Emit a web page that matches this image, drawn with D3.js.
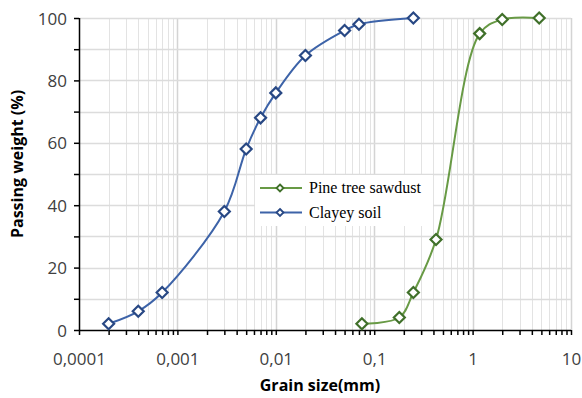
<!DOCTYPE html>
<html>
<head>
<meta charset="utf-8">
<script src="https://cdn.jsdelivr.net/npm/d3@7"></script>
<style>
  body { margin: 0; background: #fff; }
  svg { display: block; }
</style>
</head>
<body>
<svg id="chart" width="582" height="398"></svg>
<script>
// grain size (mm) and passing weight (%)
var claySize = [0.0002, 0.0004, 0.0007, 0.003, 0.005, 0.007, 0.01, 0.02, 0.05, 0.07, 0.25];
var clayPass = [2, 6, 12, 38, 58, 68, 76, 88, 96, 98, 100];
var pineSize = [0.075, 0.18, 0.25, 0.425, 1.18, 2, 4.75];
var pinePass = [2, 4, 12, 29, 95, 99.5, 100];
var xTicks = [0.0001, 0.001, 0.01, 0.1, 1, 10];
var xTickLabels = ["0,0001", "0,001", "0,01", "0,1", "1", "10"];
var yTicks = [0, 20, 40, 60, 80, 100];

var svg = d3.select("#chart");
// plot box (don't use "top", it's window.top)
var pLeft = 79, pRight = 571, pTop = 18, pBottom = 330;

var x = d3.scaleLog().domain([0.0001, 10]).range([pLeft, pRight]);
var y = d3.scaleLinear().domain([0, 100]).range([pBottom, pTop]);

// minor decade values for gridlines
var minor = [];
for (var d = 0; d < 5; d++) {
  for (var k = 2; k <= 9; k++) minor.push(xTicks[d] * k);
}

var grid = svg.append("g");
grid.selectAll("line.vmin").data(minor).enter().append("line")
  .attr("x1", function(d){ return Math.round(x(d)) + 0.5; })
  .attr("x2", function(d){ return Math.round(x(d)) + 0.5; })
  .attr("y1", pTop).attr("y2", pBottom)
  .style("stroke", "#e3e3e3").style("stroke-width", 1);
grid.selectAll("line.vmaj").data(xTicks.slice(1)).enter().append("line")
  .attr("x1", function(d){ return Math.round(x(d)) + 0.5; })
  .attr("x2", function(d){ return Math.round(x(d)) + 0.5; })
  .attr("y1", pTop).attr("y2", pBottom)
  .style("stroke", "#d4d4d4").style("stroke-width", 1.5);
grid.selectAll("line.h").data(d3.range(10, 101, 10)).enter().append("line")
  .attr("x1", pLeft).attr("x2", pRight)
  .attr("y1", function(d){ return Math.round(y(d)) + 0.5; })
  .attr("y2", function(d){ return Math.round(y(d)) + 0.5; })
  .style("stroke", "#dcdcdc").style("stroke-width", 1.5);

// axes
var xAxis = d3.axisBottom(x).tickValues(xTicks.concat(minor))
  .tickSize(5)
  .tickFormat(function(d){ var i = xTicks.indexOf(d); return i < 0 ? "" : xTickLabels[i]; });
var gx = svg.append("g").attr("transform", "translate(0," + pBottom + ")").call(xAxis);
gx.select(".domain").attr("d", "M" + pLeft + ",0.5H" + pRight).style("stroke", "#000").style("stroke-width", 1.5);
gx.selectAll(".tick line").style("stroke", "#000").style("stroke-width", 1.5);
gx.selectAll(".tick text").attr("dy", "0").attr("y", 35)
  .style("font-family", "'Open Sans', sans-serif").style("font-size", "17px").style("fill", "#404040");

var yAxis = d3.axisLeft(y).tickValues(d3.range(0, 101, 10)).tickSize(5)
  .tickFormat(function(d){ return yTicks.indexOf(d) < 0 ? "" : d; });
var gy = svg.append("g").attr("transform", "translate(" + pLeft + ",0)").call(yAxis);
gy.select(".domain").attr("d", "M0.5," + pTop + "V" + pBottom).style("stroke", "#000").style("stroke-width", 1.5);
gy.selectAll(".tick line").style("stroke", "#000").style("stroke-width", 1.5);
gy.selectAll(".tick text").attr("x", -12).attr("dy", "0.36em")
  .style("font-family", "'Open Sans', sans-serif").style("font-size", "17px").style("fill", "#404040");

// series
var series = [
  { name: "Pine tree sawdust", xs: pineSize, ys: pinePass, color: "#689a45", dark: "#40702a" },
  { name: "Clayey soil", xs: claySize, ys: clayPass, color: "#3d63a8", dark: "#284884" }
];
var line = d3.line().curve(d3.curveCatmullRom.alpha(0.5))
  .x(function(d){ return x(d[0]); }).y(function(d){ return y(d[1]); });
var diamond = "M0,-5.5L5.5,0L0,5.5L-5.5,0Z";

series.forEach(function(s){
  var pts = s.xs.map(function(v, i){ return [v, s.ys[i]]; });
  svg.append("path").datum(pts).attr("d", line)
    .style("fill", "none").style("stroke", s.color).style("stroke-width", 2);
  svg.selectAll(null).data(pts).enter().append("path")
    .attr("d", diamond)
    .attr("transform", function(d){ return "translate(" + x(d[0]) + "," + y(d[1]) + ")"; })
    .style("fill", "#fff").style("stroke", s.dark).style("stroke-width", 2.2);
});

// legend
var lg = svg.append("g");
lg.append("rect").attr("x", 255).attr("y", 175).attr("width", 178).attr("height", 51).style("fill", "#fff");
series.forEach(function(s, i){
  var ly = 188 + i * 24.5;
  lg.append("line").attr("x1", 260).attr("x2", 302).attr("y1", ly).attr("y2", ly)
    .style("stroke", s.color).style("stroke-width", 2);
  lg.append("path").attr("d", "M0,-3.5L3.5,0L0,3.5L-3.5,0Z")
    .attr("transform", "translate(280," + ly + ")")
    .style("fill", "#fff").style("stroke", s.dark).style("stroke-width", 1.8);
  lg.append("text").attr("x", 309).attr("y", ly + 5).text(s.name)
    .style("font-family", "'Liberation Serif', serif").style("font-size", "16px").style("fill", "#000");
});

// axis titles
svg.append("text").attr("transform", "translate(23,164) rotate(-90)")
  .attr("text-anchor", "middle").text("Passing weight (%)")
  .style("font-family", "'Open Sans', sans-serif").style("font-weight", "bold").style("font-size", "16px").style("fill", "#000");
svg.append("text").attr("x", 320).attr("y", 391)
  .attr("text-anchor", "middle").text("Grain size(mm)")
  .style("font-family", "'Open Sans', sans-serif").style("font-weight", "bold").style("font-size", "16px").style("fill", "#000");
</script>
</body>
</html>
